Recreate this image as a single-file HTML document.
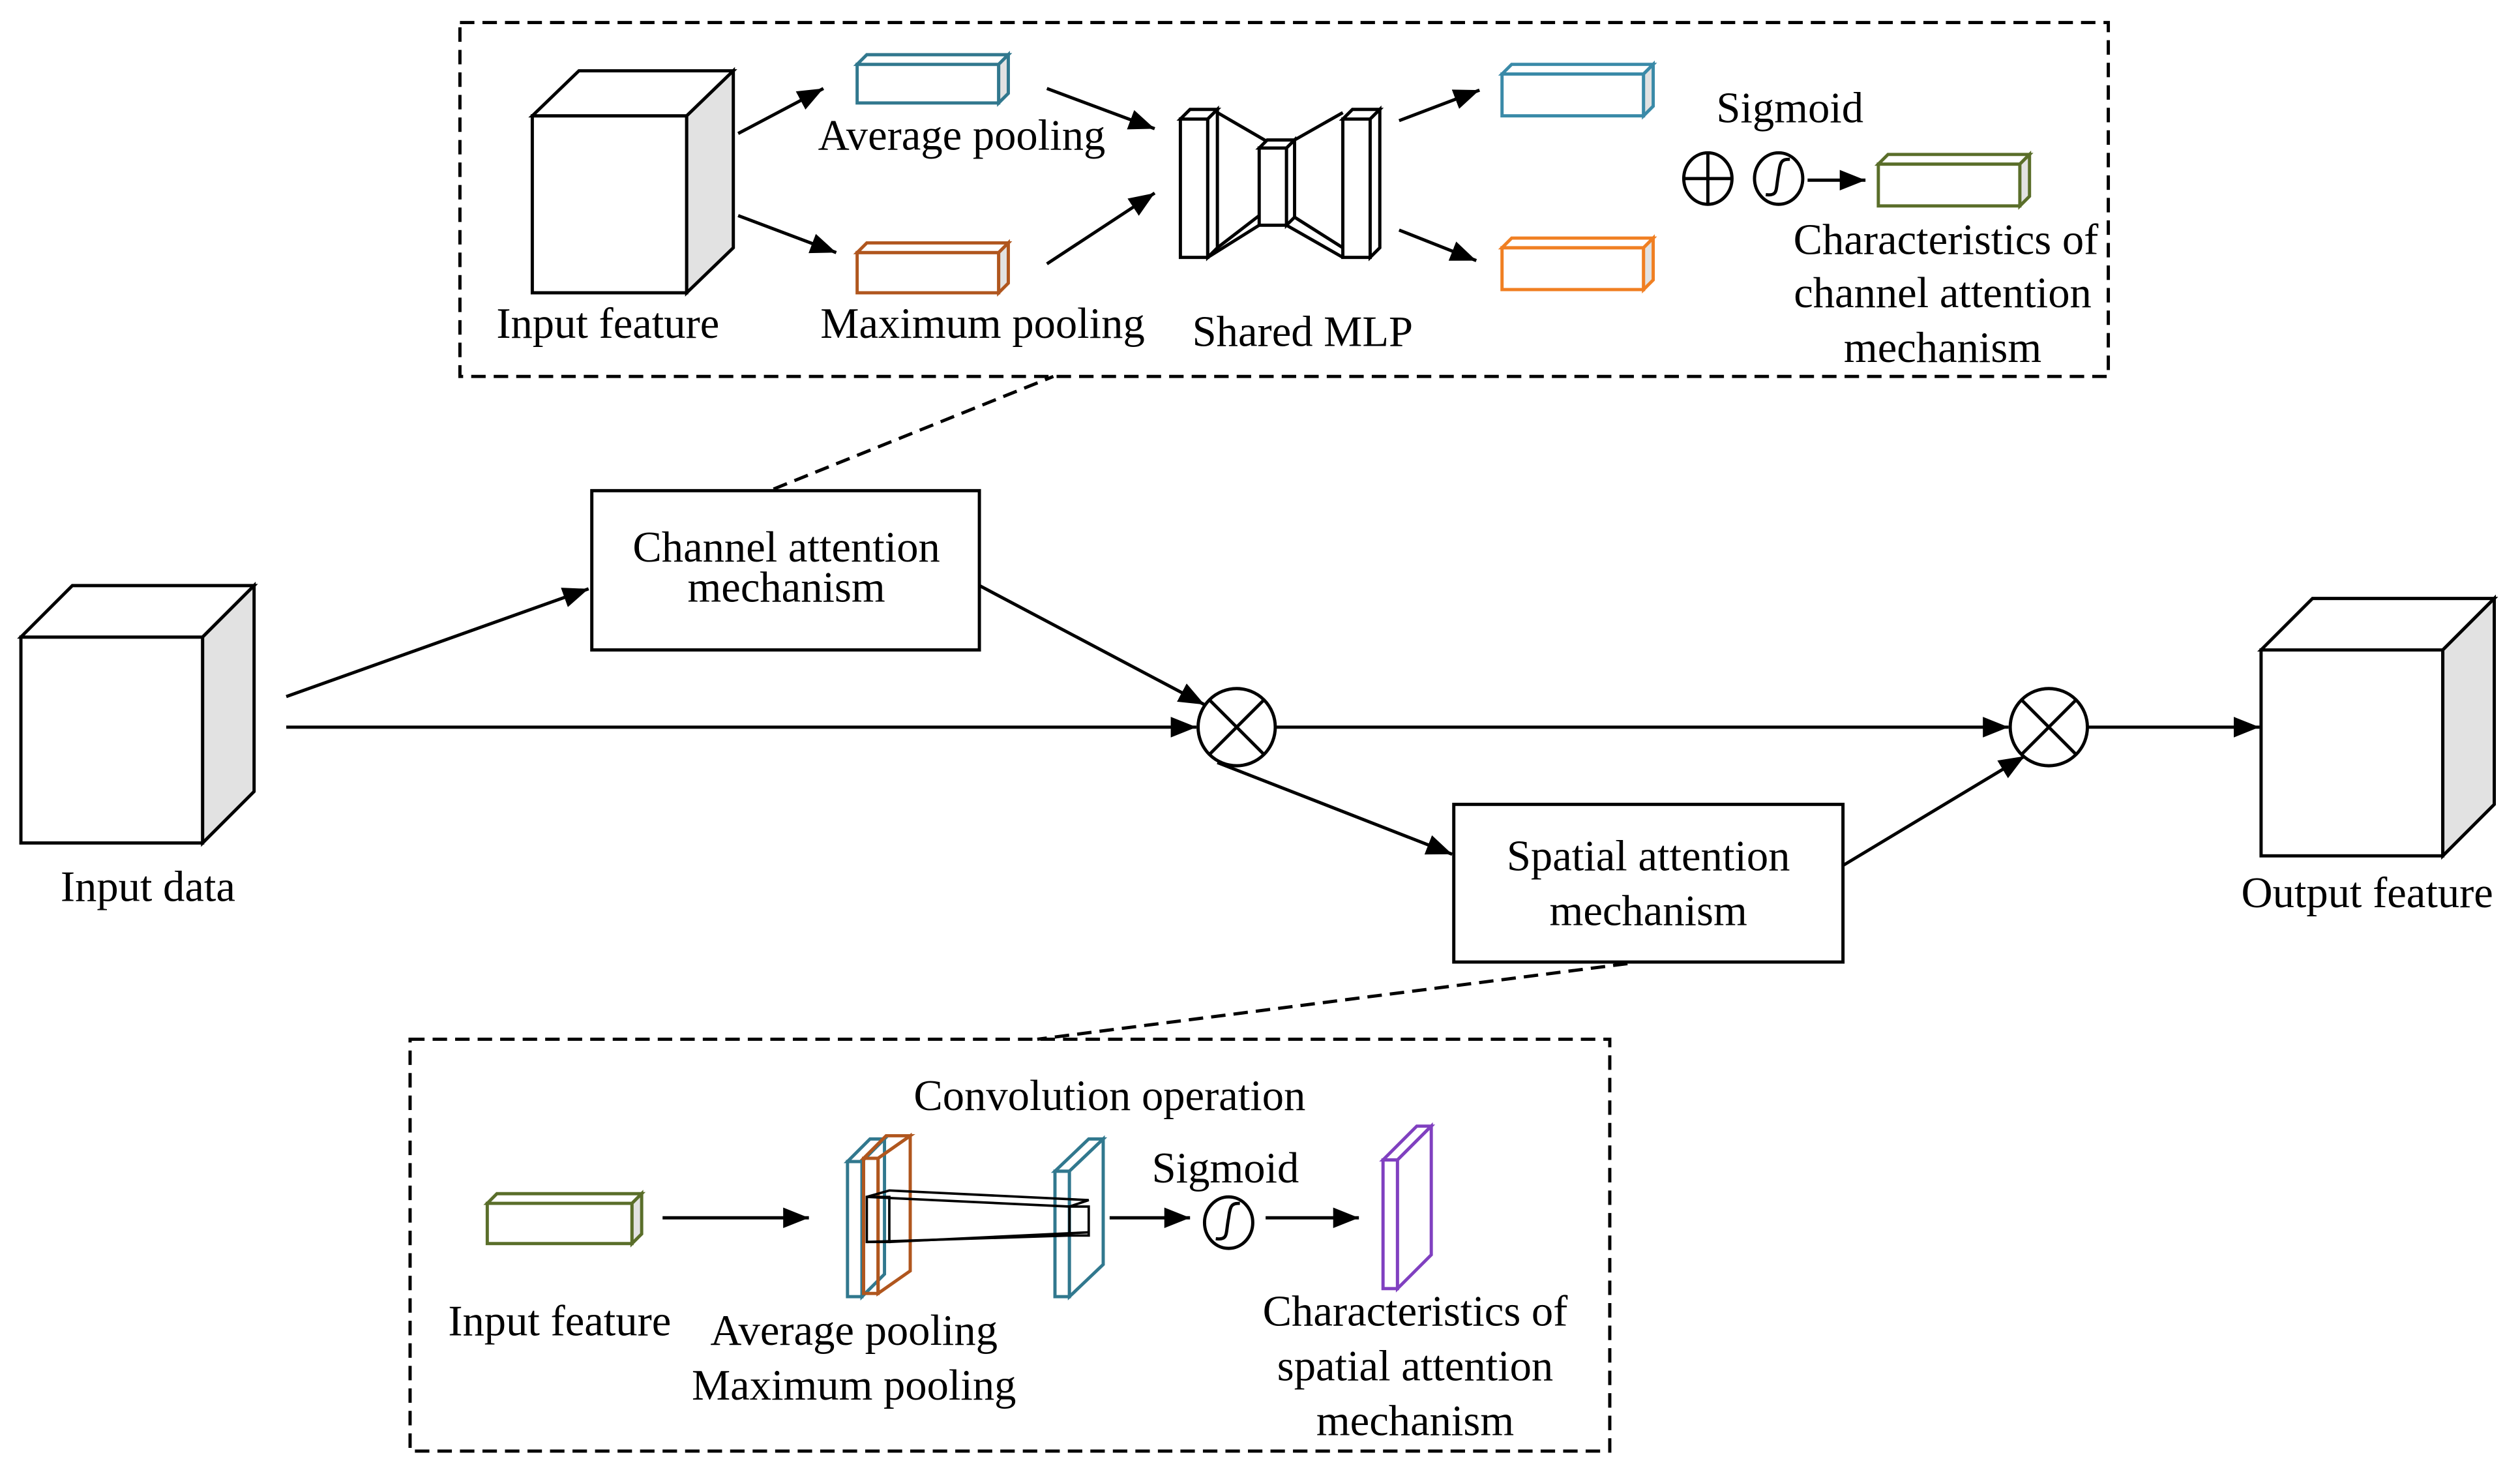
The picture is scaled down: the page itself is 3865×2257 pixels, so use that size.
<!DOCTYPE html>
<html><head><meta charset="utf-8"><style>
html,body{margin:0;padding:0;background:#fff}
svg{display:block}
text{font-family:"Liberation Serif",serif;font-size:27px;fill:#000;text-anchor:middle}
</style></head><body>
<svg width="3865" height="2257" viewBox="0 0 1567 915" preserveAspectRatio="none" xmlns="http://www.w3.org/2000/svg">
<defs>
<marker id="a" viewBox="0 0 10 10" refX="10" refY="5" markerWidth="16" markerHeight="16" markerUnits="userSpaceOnUse" orient="auto"><path d="M0,1L10,5L0,9z" fill="#000"/></marker>
</defs>
<g fill="none" stroke="#000" stroke-width="2">
<rect x="286" y="14" width="1025" height="220" stroke-dasharray="9,5"/>
<rect x="255" y="646" width="746" height="256" stroke-dasharray="9,5"/>
<line x1="481" y1="304" x2="655" y2="234" stroke-dasharray="9,5"/>
<line x1="1012" y1="599" x2="645" y2="646" stroke-dasharray="9,5"/>
</g>
<g stroke="#000" stroke-width="2">
<rect x="331" y="72" width="96" height="110" fill="#fff"/>
<polygon points="331,72 360,44 456,44 427,72" fill="#fff"/>
<polygon points="427,72 456,44 456,154 427,182" fill="#e2e2e2"/>
<rect x="13" y="396" width="113" height="128" fill="#fff"/>
<polygon points="13,396 45,364 158,364 126,396" fill="#fff"/>
<polygon points="126,396 158,364 158,492 126,524" fill="#e2e2e2"/>
<rect x="1406" y="404" width="113" height="128" fill="#fff"/>
<polygon points="1406,404 1438,372 1551,372 1519,404" fill="#fff"/>
<polygon points="1519,404 1551,372 1551,500 1519,532" fill="#e2e2e2"/>
</g>
<g fill="#fff" stroke-width="2">
<g stroke="#31788e"><rect x="533" y="40" width="88" height="24"/><polygon points="533,40 539,34 627,34 621,40"/><polygon points="621,40 627,34 627,58 621,64" fill="#e2e2e2"/></g>
<g stroke="#b0561e"><rect x="533" y="157" width="88" height="25"/><polygon points="533,157 539,151 627,151 621,157"/><polygon points="621,157 627,151 627,176 621,182" fill="#e2e2e2"/></g>
<g stroke="#3a8aa8"><rect x="934" y="46" width="88" height="26"/><polygon points="934,46 940,40 1028,40 1022,46"/><polygon points="1022,46 1028,40 1028,66 1022,72" fill="#e2e2e2"/></g>
<g stroke="#f07f22"><rect x="934" y="154" width="88" height="26"/><polygon points="934,154 940,148 1028,148 1022,154"/><polygon points="1022,154 1028,148 1028,174 1022,180" fill="#e2e2e2"/></g>
<g stroke="#5a6e2a"><rect x="1168" y="102" width="88" height="26"/><polygon points="1168,102 1174,96 1262,96 1256,102"/><polygon points="1256,102 1262,96 1262,122 1256,128" fill="#e2e2e2"/></g>
<g stroke="#5a6e2a"><rect x="303" y="748" width="90" height="25"/><polygon points="303,748 309,742 399,742 393,748"/><polygon points="393,748 399,742 399,767 393,773" fill="#e2e2e2"/></g>
<g stroke="#000"><rect x="734" y="74" width="17" height="86"/><polygon points="734,74 740,68 757,68 751,74"/><polygon points="751,74 757,68 757,154 751,160"/>
<rect x="783" y="92" width="17" height="48"/><polygon points="783,92 788,87 805,87 800,92"/><polygon points="800,92 805,87 805,135 800,140"/>
<rect x="835" y="74" width="17" height="86"/><polygon points="835,74 841,68 858,68 852,74"/><polygon points="852,74 858,68 858,154 852,160"/>
<polyline points="757,70 788,88" fill="none"/><polyline points="751,160 783,140" fill="none"/><polyline points="757,154 783,134" fill="none"/>
<polyline points="805,87 835,70" fill="none"/><polyline points="800,140 835,160" fill="none"/><polyline points="805,135 835,154" fill="none"/></g>
<g stroke="#31788e"><rect x="527" y="722" width="9" height="84"/><polygon points="527,722 541,708 550,708 536,722"/><polygon points="536,722 550,708 550,792 536,806"/></g>
<g stroke="#b0561e" fill="none"><rect x="537" y="720" width="9" height="84"/><polygon points="537,720 551,706 566,706 546,720"/><polygon points="546,720 566,706 566,790 546,804"/></g>
<g stroke="#31788e"><rect x="656" y="728" width="9" height="78"/><polygon points="656,728 677,708 686,708 665,728"/><polygon points="665,728 686,708 686,786 665,806"/></g>
<g stroke="#000" fill="none" stroke-width="1.5"><rect x="539" y="744" width="14" height="28"/><polygon points="539,744 553,740 677,746 665,750"/><line x1="553" y1="772" x2="677" y2="766"/><line x1="539" y1="772" x2="665" y2="768"/><rect x="665" y="750" width="12" height="18"/></g>
<g stroke="#8040c0"><rect x="860" y="721" width="9" height="80"/><polygon points="860,721 881,700 890,700 869,721"/><polygon points="869,721 890,700 890,780 869,801"/></g>
</g>
<g fill="#fff" stroke="#000" stroke-width="2">
<rect x="368" y="305" width="241" height="99"/>
<rect x="904" y="500" width="242" height="98"/>
</g>
<g stroke="#000" stroke-width="2" fill="none" marker-end="url(#a)">
<line x1="459" y1="83" x2="512" y2="55"/>
<line x1="459" y1="134" x2="520" y2="157"/>
<line x1="651" y1="55" x2="718" y2="80"/>
<line x1="651" y1="164" x2="718" y2="120"/>
<line x1="870" y1="75" x2="920" y2="56"/>
<line x1="870" y1="143" x2="918" y2="162"/>
<line x1="1124" y1="112" x2="1160" y2="112"/>
<line x1="178" y1="433" x2="366" y2="366"/>
<line x1="178" y1="452" x2="744" y2="452"/>
<line x1="609" y1="364" x2="749" y2="438"/>
<line x1="793" y1="452" x2="1249" y2="452"/>
<line x1="757" y1="474" x2="903" y2="531"/>
<line x1="1146" y1="538" x2="1259" y2="470"/>
<line x1="1298" y1="452" x2="1405" y2="452"/>
<line x1="412" y1="757" x2="503" y2="757"/>
<line x1="690" y1="757" x2="740" y2="757"/>
<line x1="787" y1="757" x2="845" y2="757"/>
</g>
<g stroke="#000" stroke-width="2" fill="#fff">
<circle cx="769" cy="452" r="24"/><line x1="752" y1="435" x2="786" y2="469"/><line x1="786" y1="435" x2="752" y2="469"/>
<circle cx="1274" cy="452" r="24"/><line x1="1257" y1="435" x2="1291" y2="469"/><line x1="1291" y1="435" x2="1257" y2="469"/>
<ellipse cx="1062" cy="111" rx="15" ry="16"/><line x1="1047" y1="111" x2="1077" y2="111"/><line x1="1062" y1="95" x2="1062" y2="127"/>
<ellipse cx="1106" cy="111" rx="15" ry="16"/><path d="M1098,121 C1106,122 1104,118 1106,108 C1107,100 1108,99 1113,99" fill="none"/>
<ellipse cx="764" cy="760" rx="15" ry="16"/><path d="M756,770 C764,771 762,767 764,757 C765,749 766,748 771,748" fill="none"/>
</g>
<text x="378" y="210">Input feature</text>
<text x="598" y="93">Average pooling</text>
<text x="611" y="210">Maximum pooling</text>
<text x="810" y="215">Shared MLP</text>
<text x="1113" y="76">Sigmoid</text>
<text x="1210" y="158">Characteristics of</text>
<text x="1208" y="191">channel attention</text>
<text x="1208" y="225">mechanism</text>
<text x="489" y="349">Channel attention</text>
<text x="489" y="374">mechanism</text>
<text x="92" y="560">Input data</text>
<text x="1025" y="541">Spatial attention</text>
<text x="1025" y="575">mechanism</text>
<text x="1472" y="564">Output feature</text>
<text x="690" y="690">Convolution operation</text>
<text x="762" y="735">Sigmoid</text>
<text x="348" y="830">Input feature</text>
<text x="531" y="836">Average pooling</text>
<text x="531" y="870">Maximum pooling</text>
<text x="880" y="824">Characteristics of</text>
<text x="880" y="858">spatial attention</text>
<text x="880" y="892">mechanism</text>
</svg>
</body></html>
